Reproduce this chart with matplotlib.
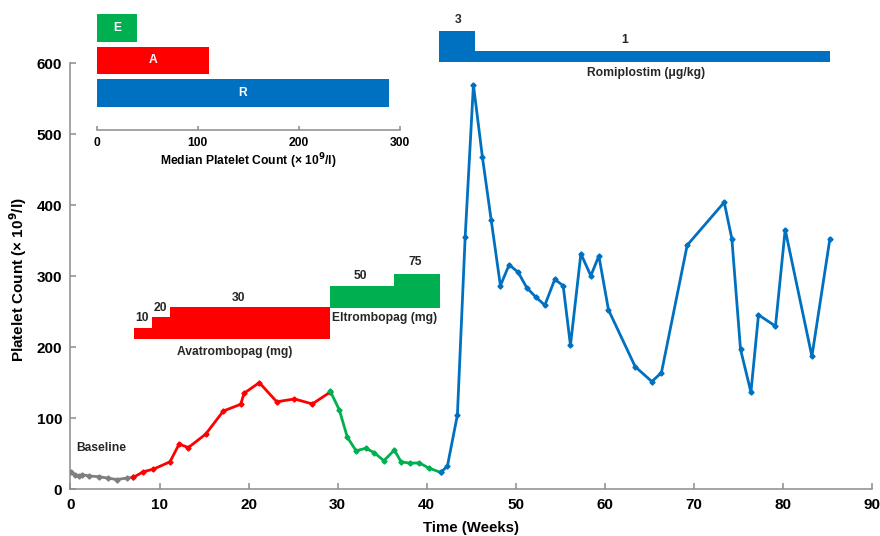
import matplotlib
matplotlib.use("Agg")
import matplotlib.pyplot as plt

plt.rcParams["font.family"] = ["Liberation Sans", "DejaVu Sans"]
plt.rcParams["font.weight"] = "bold"

GRAY, RED, GREEN, BLUE = "#7f7f7f", "#ff0000", "#00b050", "#0070c0"
AXC = "#8c8c8c"

# platelet counts per treatment phase (weeks, x10^9/l)
base_wk = [0.06, 0.5, 1.0, 1.3, 2.1, 3.2, 4.2, 5.2, 6.3, 7.06]
base_pc = [24, 21, 19, 21, 19, 18, 16, 14, 16, 17]
ava_wk = [7.06, 8.18, 9.3, 11.18, 12.2, 13.24, 15.19, 17.17, 19.12, 19.5, 21.21, 23.17, 25.15, 27.17, 29.16]
ava_pc = [17, 25, 28.5, 39, 64, 59, 78, 110.5, 120, 135.5, 150.5, 123.5, 127.5, 120.5, 137]
elt_wk = [29.16, 30.2, 31.1, 32.08, 33.17, 34.1, 35.2, 36.38, 37.13, 38.15, 39.16, 40.28, 41.6]
elt_pc = [139, 112, 73.5, 54.5, 58, 52, 40.5, 55.5, 39, 37, 37.5, 30, 24]
rom_wk = [41.6, 42.34, 43.46, 44.33, 45.26, 46.27, 47.25, 48.29, 49.27, 50.28, 51.26, 52.27, 53.28,
          54.4, 55.34, 56.16, 57.33, 58.45, 59.35, 60.43, 63.43, 65.3, 66.38, 69.27, 73.43, 74.29,
          75.26, 76.43, 77.28, 79.19, 80.28, 83.28, 85.3]
rom_pc = [24, 33, 105, 355, 570, 468, 380, 287, 316.5, 306, 284, 271, 259.5,
          296, 287, 203, 332, 301, 329, 253, 173, 152, 164.5, 344, 404.5, 353,
          197.5, 137, 246, 230, 366, 187.5, 353]

# dose schedule bars: start, end, top, with a common base per drug
ava_start = [7.13, 9.12, 11.18]
ava_end = [9.12, 11.18, 29.16]
ava_top = [228, 243, 257]
ava_base = 212
ava_doses = ["10", "20", "30"]
elt_start = [29.16, 36.38]
elt_end = [36.38, 41.5]
elt_top = [287, 303]
elt_base = 256
elt_doses = ["50", "75"]
rom_start = [41.4, 45.4]
rom_end = [45.4, 85.3]
rom_top = [646, 617]
rom_base = 602
rom_doses = ["3", "1"]

# inset: median platelet count per drug
med_labels = ["R", "A", "E"]
med_values = [289, 111, 40]
med_colors = [BLUE, RED, GREEN]

fig = plt.figure(figsize=(8.8, 5.36), dpi=100)
ax = fig.add_axes([0.0801, 0.0868, 0.9105, 0.9132])

for wk, pc, c in [(base_wk, base_pc, GRAY), (ava_wk, ava_pc, RED), (elt_wk, elt_pc, GREEN), (rom_wk, rom_pc, BLUE)]:
    ax.plot(wk, pc, color=c, lw=2.0, marker="D", ms=2.6, zorder=3)

for st, en, tp, b, c in [(ava_start, ava_end, ava_top, ava_base, RED),
                         (elt_start, elt_end, elt_top, elt_base, GREEN),
                         (rom_start, rom_end, rom_top, rom_base, BLUE)]:
    ax.bar(st, [t - b for t in tp], width=[e - s for s, e in zip(st, en)], bottom=b,
           align="edge", color=c, linewidth=0, zorder=2)

fs = 8.7
lab = dict(fontsize=fs, fontweight="bold", color="#262626", ha="center", va="center")
for t, (xx, yy) in zip(ava_doses, [(8.0, 241), (10.1, 255), (18.85, 269)]):
    ax.text(xx, yy, t, **lab)
for t, (xx, yy) in zip(elt_doses, [(32.6, 300), (38.7, 320)]):
    ax.text(xx, yy, t, **lab)
for t, (xx, yy) in zip(rom_doses, [(43.5, 661), (62.3, 633)]):
    ax.text(xx, yy, t, **lab)
ax.text(18.5, 193, "Avatrombopag (mg)", **lab)
ax.text(35.3, 242, "Eltrombopag (mg)", **lab)
ax.text(64.7, 586, "Romiplostim (μg/kg)", **lab)
ax.text(3.4, 58, "Baseline", **lab)

ax.set_xlim(0, 90)
ax.set_ylim(0, 689.4)
ax.set_xticks(range(0, 91, 10))
ax.set_yticks(range(0, 601, 100))
ax.spines["left"].set_bounds(0, 600)
for s in ["top", "right"]:
    ax.spines[s].set_visible(False)
for s in ["left", "bottom"]:
    ax.spines[s].set_color(AXC)
    ax.spines[s].set_linewidth(1.1)
ax.tick_params(direction="in", length=4, width=1.1, color=AXC, labelsize=11, pad=6)
for tl in ax.get_xticklabels() + ax.get_yticklabels():
    tl.set_fontweight("bold")
fig.text(0.5356, 0.0144, "Time (Weeks)", fontsize=10.8, fontweight="bold", ha="center", va="center")
fig.text(0.0205, 0.4776, "Platelet Count (× 10$^{\\mathbf{9}}$/l)", fontsize=11, fontweight="bold",
         rotation=90, ha="center", va="center")

# inset bar chart
axi = fig.add_axes([0.1099, 0.7575, 0.3446, 0.2165])
axi.barh(range(3), med_values, height=0.84, color=med_colors, linewidth=0)
for i, (l, v) in enumerate(zip(med_labels, med_values)):
    axi.text(v / 2, i, l, color="white", fontsize=fs, fontweight="bold", ha="center", va="center")
axi.set_xlim(0, 300)
axi.set_ylim(-1.14, 2.43)
axi.set_xticks([0, 100, 200, 300])
axi.set_yticks([])
for s in ["top", "right", "left"]:
    axi.spines[s].set_visible(False)
axi.spines["bottom"].set_position(("data", -1.14))
axi.spines["bottom"].set_color(AXC)
axi.spines["bottom"].set_linewidth(1.1)
axi.patch.set_alpha(0)
axi.tick_params(direction="in", length=3, width=1.1, color=AXC, labelsize=fs, pad=5)
for tl in axi.get_xticklabels():
    tl.set_fontweight("bold")
axi.set_xlabel("Median Platelet Count (× 10$^{\\mathbf{9}}$/l)", fontsize=fs, fontweight="bold", labelpad=2)

fig.savefig("out.png", dpi=100)
